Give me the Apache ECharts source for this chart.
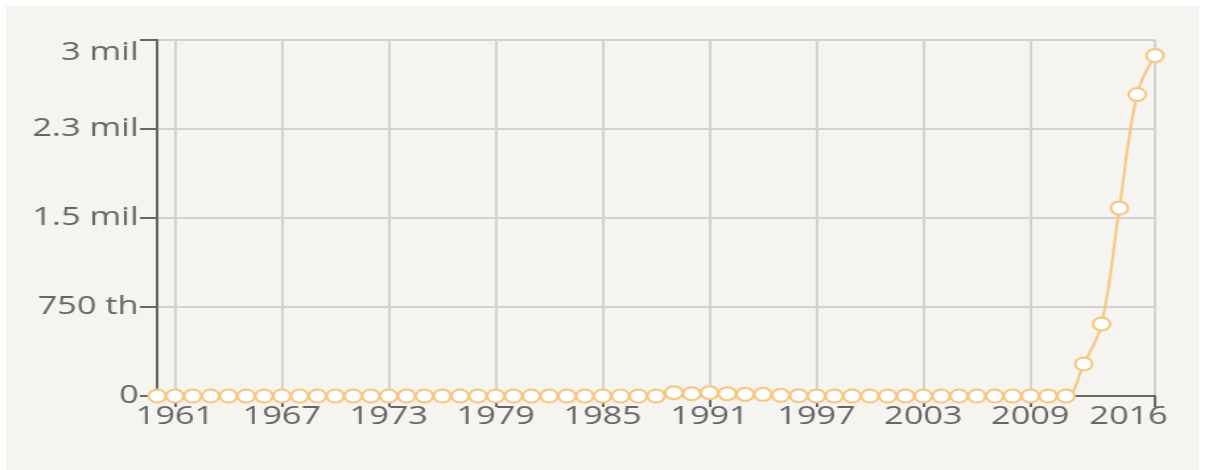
<!DOCTYPE html>
<html>
<head>
<meta charset="utf-8">
<script src="https://cdn.jsdelivr.net/npm/echarts@6/dist/echarts.min.js"></script>
<style>
  html, body { margin: 0; padding: 0; background: #ffffff; }
  #panel { position: absolute; left: 6px; top: 6px; width: 1193px; height: 464px; background: #f5f4f0; }
  /* the chart is drawn narrow and stretched sideways, like the reference */
  #main { position: absolute; left: 0; top: 0; width: 913px; height: 470px;
          transform: scaleX(1.32); transform-origin: 0 0; }
</style>
</head>
<body>
<div id="panel"></div>
<div id="main"></div>
<script>
var years = [];
for (var y = 1960; y <= 2016; y++) years.push(String(y));

// values, 1960 .. 2016
var values = [
  0, 0, 0, 0, 0, 0, 0, 0, 0, 0,               // 1960-1969
  0, 0, 0, 0, 0, 0, 0, 0, 0, 0,               // 1970-1979
  0, 0, 0, 0, 0, 0, 0, 0, 0, 28000,           // 1980-1989
  20000, 28000, 20000, 14000, 14000, 6000, 3000, 0, 0, 0, // 1990-1999
  0, 0, 0, 0, 0, 0, 0, 0, 0, 0,               // 2000-2009
  0, 0, 270000, 607000, 1584000, 2541000, 2869000 // 2010-2016
];

var labelYears = ['1961', '1967', '1973', '1979', '1985', '1991', '1997', '2003', '2009', '2016'];
var yTickLabels = ['0', '750 th', '1.5 mil', '2.3 mil', '3 mil'];
var yStep = 750000;

var txt = { color: '#666666', fontFamily: 'Open Sans', fontSize: 26 };

function shown(idx) {
  return labelYears.indexOf(years[idx]) >= 0;
}

var chart = echarts.init(document.getElementById('main'));
chart.setOption({
  backgroundColor: 'transparent',
  animation: false,
  grid: { left: 119, right: 38, top: 40, bottom: 74, containLabel: false },
  xAxis: {
    type: 'category',
    data: years,
    boundaryGap: false,
    axisLine: { lineStyle: { color: '#666666', width: 2 } },
    axisTick: { show: true, length: 11, interval: shown, lineStyle: { color: '#666666', width: 2 } },
    axisLabel: {
      interval: shown, color: txt.color, fontFamily: txt.fontFamily, fontSize: txt.fontSize, margin: 8,
      formatter: function (v) {
        // last label sits pulled back to the left
        return v === years[years.length - 1] ? '{last|' + v + '}' : v;
      },
      rich: { last: { color: txt.color, fontFamily: txt.fontFamily, fontSize: txt.fontSize, padding: [0, 40, 0, 0] } }
    },
    splitLine: { show: true, interval: shown, lineStyle: { color: '#d2d2d2', width: 2 } }
  },
  yAxis: {
    type: 'value',
    min: 0,
    max: 3000000,
    interval: yStep,
    axisLine: { show: true, lineStyle: { color: '#666666', width: 2 } },
    axisTick: { show: true, length: 13, lineStyle: { color: '#666666', width: 2 } },
    axisLabel: {
      color: txt.color, fontFamily: txt.fontFamily, fontSize: txt.fontSize, margin: 14,
      verticalAlignMaxLabel: 'top',
      formatter: function (v) { return yTickLabels[Math.round(v / yStep)]; }
    },
    splitLine: { show: true, lineStyle: { color: '#d2d2d2', width: 2 } }
  },
  series: [{
    type: 'line',
    data: values,
    smooth: 0.4,
    symbol: 'circle',
    symbolSize: 13,
    showAllSymbol: true,
    lineStyle: { color: '#f7c67c', width: 2 },
    itemStyle: { color: '#ffffff', borderColor: '#f7c67c', borderWidth: 2 },
    z: 5
  }]
});
</script>
</body>
</html>
